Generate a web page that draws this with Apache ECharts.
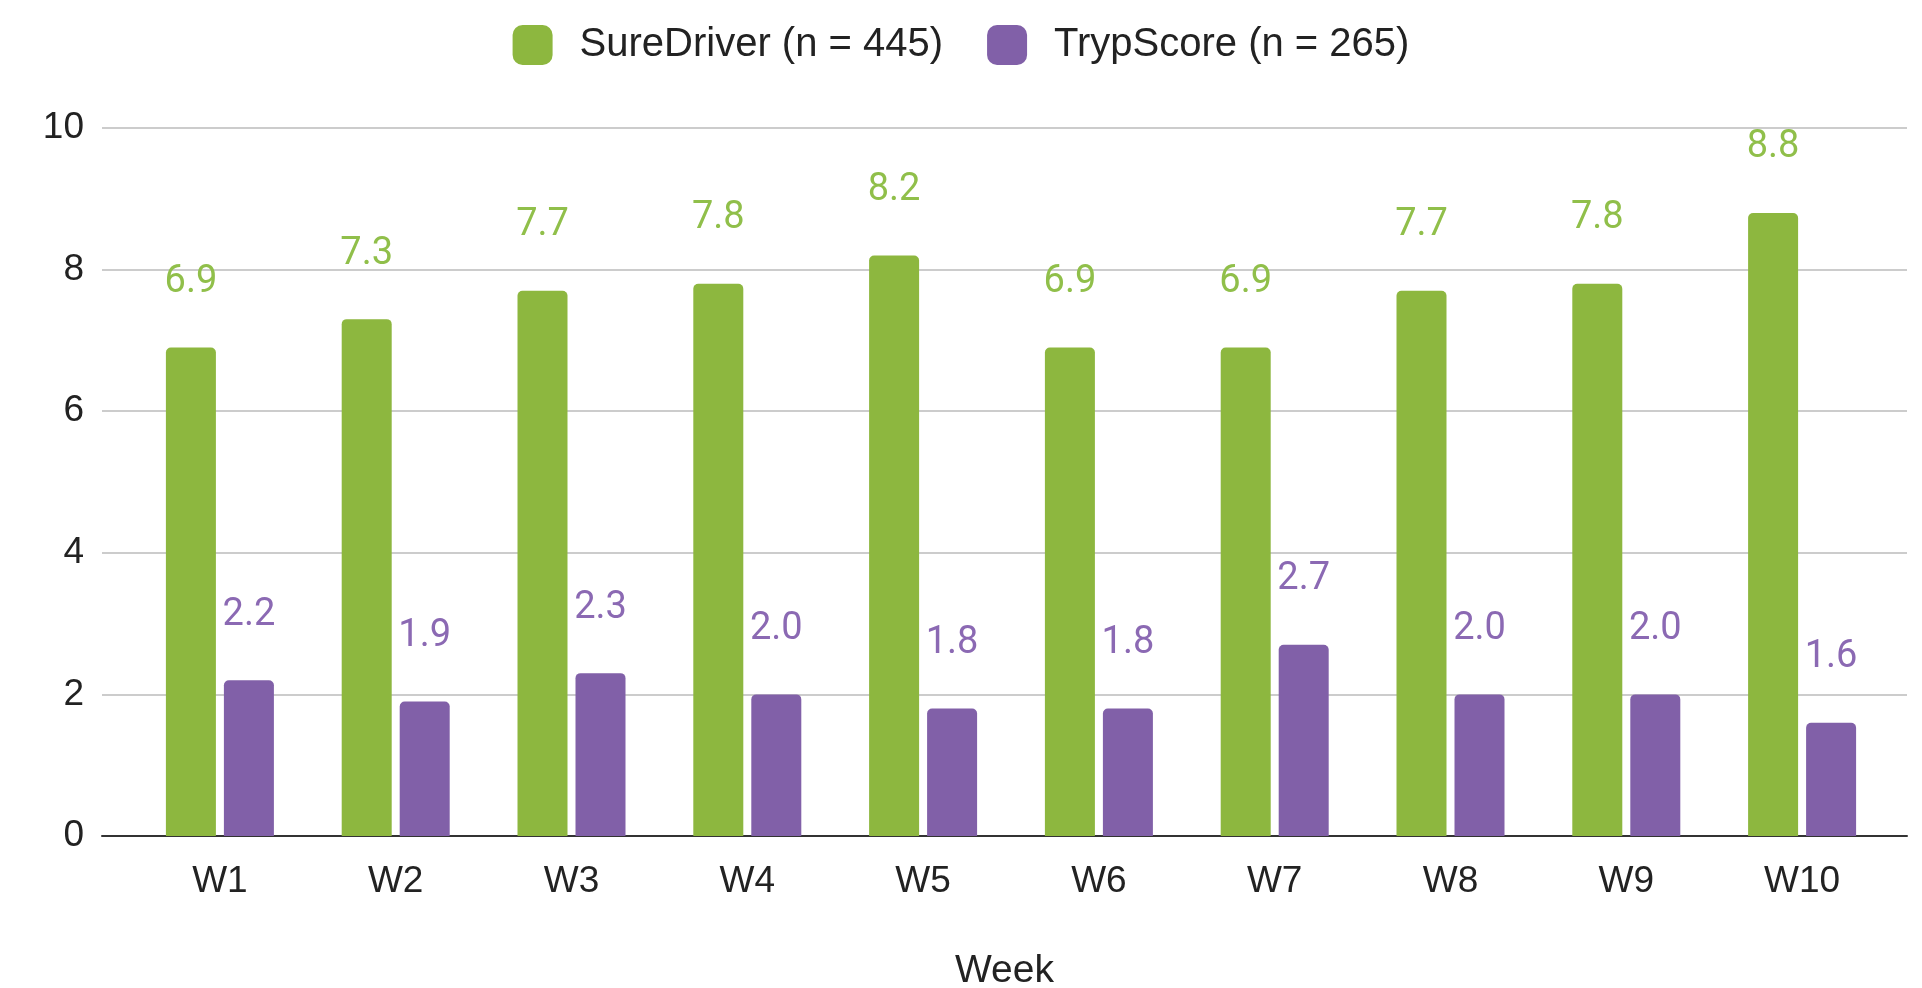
<!DOCTYPE html>
<html>
<head>
<meta charset="utf-8">
<script src="https://cdn.jsdelivr.net/npm/echarts@6/dist/echarts.min.js"></script>
<style>html,body{margin:0;padding:0;background:#fff}#c{width:1922px;height:988px}</style>
</head>
<body>
<div id="c"></div>
<script>
var categories = ['W1','W2','W3','W4','W5','W6','W7','W8','W9','W10'];
var sureDriver = [6.9, 7.3, 7.7, 7.8, 8.2, 6.9, 6.9, 7.7, 7.8, 8.8];
var trypScore = [2.2, 1.9, 2.3, 2.0, 1.8, 1.8, 2.7, 2.0, 2.0, 1.6];
var seriesNames = ['SureDriver (n = 445)', 'TrypScore (n = 265)'];
var yTicks = [0, 2, 4, 6, 8, 10];

var GREEN = '#8db73f', PURPLE = '#8160a8';
var axisFont = 'Liberation Sans';
var chart = echarts.init(document.getElementById('c'));
function lbl(color){
  return {show:true, position:'top', distance:46, color:color, fontFamily:'Roboto', fontSize:38,
          formatter:function(p){return p.value.toFixed(1);}};
}
chart.setOption({
  animation:false,
  legend:{top:20, left:'center', itemWidth:40, itemHeight:40, itemGap:44,
    icon:'roundRect',
    textStyle:{fontFamily:axisFont, fontSize:40, color:'#222', padding:[0,0,0,22]},
    data:seriesNames},
  grid:[
    {left:102, right:15, top:128, bottom:152, outerBoundsMode:'none', containLabel:false},
    {left:132, right:32, top:128, bottom:152, outerBoundsMode:'none', containLabel:false}
  ],
  xAxis:[
    {gridIndex:0, type:'value', min:0, max:1, axisLine:{show:true, onZero:true, lineStyle:{color:'#333', width:2}},
     axisTick:{show:false}, axisLabel:{show:false}, splitLine:{show:false},
     name:'Week', nameLocation:'middle', nameGap:116,
     nameTextStyle:{fontFamily:axisFont, fontSize:39, color:'#222'}},
    {gridIndex:1, type:'category', data:categories, axisLine:{show:false}, axisTick:{show:false},
     axisLabel:{fontFamily:axisFont, fontSize:37, color:'#222', margin:27}}
  ],
  yAxis:[
    {gridIndex:0, type:'value', min:0, max:10, interval:2,
     axisLabel:{fontFamily:axisFont, fontSize:37, color:'#222', margin:18,
       customValues:yTicks},
     axisLine:{show:false}, axisTick:{show:false},
     splitLine:{lineStyle:{color:'#cccccc', width:2}}},
    {gridIndex:1, type:'value', min:0, max:10, interval:2, show:false, splitLine:{show:false}}
  ],
  series:[
    {name:seriesNames[0], type:'bar', xAxisIndex:1, yAxisIndex:1, data:sureDriver,
     barWidth:50, barGap:'16%', itemStyle:{color:GREEN, borderRadius:[5,5,0,0]}, label:lbl('#90bf4a')},
    {name:seriesNames[1], type:'bar', xAxisIndex:1, yAxisIndex:1, data:trypScore,
     barWidth:50, barGap:'16%', itemStyle:{color:PURPLE, borderRadius:[5,5,0,0]}, label:lbl('#8b69b3')}
  ]
});
</script>
</body>
</html>
